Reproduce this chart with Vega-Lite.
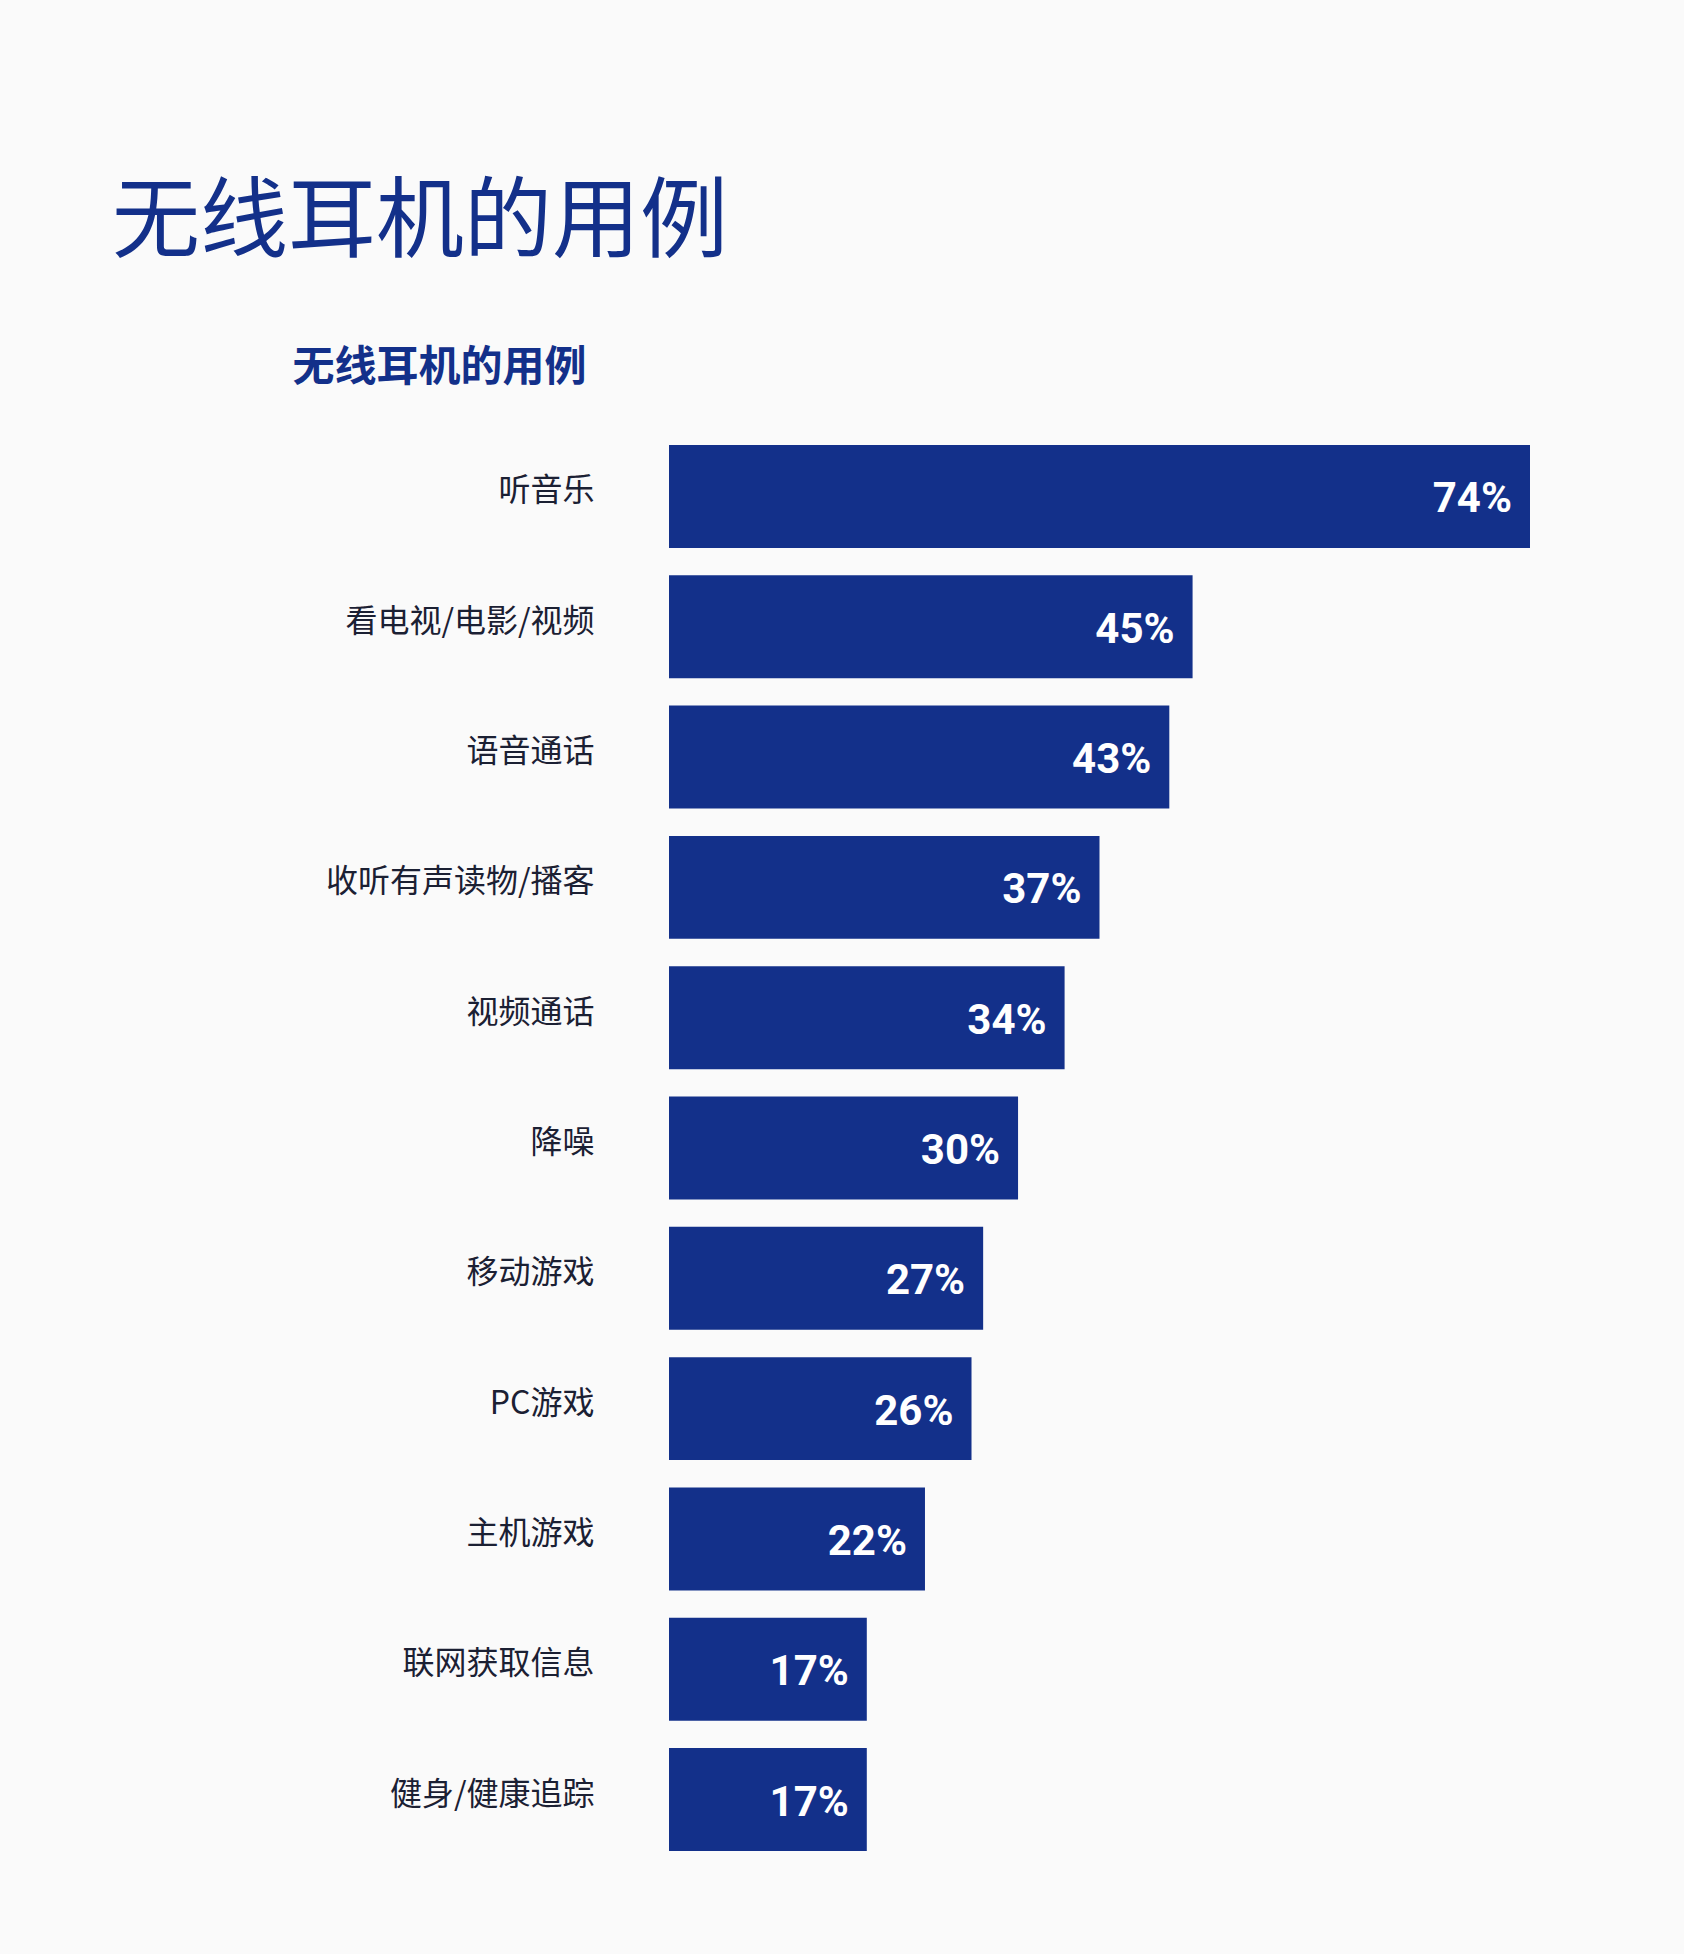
{
  "$schema": "https://vega.github.io/schema/vega-lite/v6.json",
  "width": 861,
  "height": 1406,
  "autosize": {"type": "none"},
  "padding": {"left": 669, "top": 445, "right": 154, "bottom": 103},
  "background": "#fafafa",
  "title": {
    "text": "无线耳机的用例",
    "anchor": "start",
    "frame": "group",
    "dx": -557,
    "offset": 8,
    "baseline": "alphabetic",
    "font": "Noto Sans CJK SC",
    "fontSize": 88,
    "fontWeight": "normal",
    "color": "#13308a"
  },
  "data": {
    "values": [
      {"use": "听音乐", "share": 0.74},
      {"use": "看电视/电影/视频", "share": 0.45},
      {"use": "语音通话", "share": 0.43},
      {"use": "收听有声读物/播客", "share": 0.37},
      {"use": "视频通话", "share": 0.34},
      {"use": "降噪", "share": 0.30},
      {"use": "移动游戏", "share": 0.27},
      {"use": "PC游戏", "share": 0.26},
      {"use": "主机游戏", "share": 0.22},
      {"use": "联网获取信息", "share": 0.17},
      {"use": "健身/健康追踪", "share": 0.17}
    ]
  },
  "encoding": {
    "y": {
      "field": "use",
      "type": "nominal",
      "sort": null,
      "scale": {"paddingInner": 0.21, "paddingOuter": 0},
      "axis": {
        "title": "无线耳机的用例",
        "titleAngle": 0,
        "titleAlign": "left",
        "titleBaseline": "alphabetic",
        "titleX": -377,
        "titleY": -65,
        "titleFont": "Noto Sans CJK SC",
        "titleFontSize": 42,
        "titleFontWeight": "bold",
        "titleColor": "#13308a",
        "domain": false,
        "ticks": false,
        "grid": false,
        "labelPadding": 75,
        "labelOffset": -5,
        "labelFont": "Noto Sans CJK SC",
        "labelFontSize": 32,
        "labelColor": "#1b2033",
        "labelLimit": 0
      }
    },
    "x": {
      "field": "share",
      "type": "quantitative",
      "scale": {"domain": [0, 0.74], "nice": false},
      "axis": null
    }
  },
  "layer": [
    {
      "mark": {"type": "bar", "color": "#13308a"}
    },
    {
      "mark": {
        "type": "text",
        "align": "right",
        "baseline": "middle",
        "dx": -18,
        "dy": 3,
        "font": "Roboto",
        "fontSize": 42,
        "fontWeight": "bold",
        "color": "white"
      },
      "encoding": {
        "text": {"field": "share", "type": "quantitative", "format": ".0%"}
      }
    }
  ],
  "config": {
    "view": {"stroke": "transparent"}
  }
}
